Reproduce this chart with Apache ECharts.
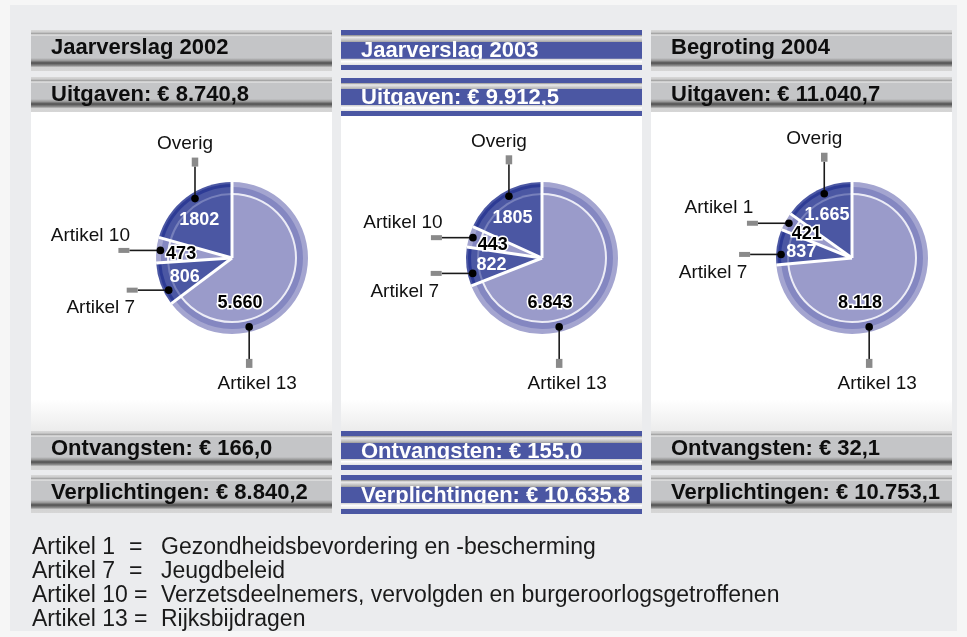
<!DOCTYPE html>
<html>
<head>
<meta charset="utf-8">
<script src="https://cdn.jsdelivr.net/npm/echarts@6/dist/echarts.min.js"></script>
<style>
  html, body { margin: 0; padding: 0; background: #f6f6f6; }
  #chart { width: 967px; height: 637px; }
</style>
</head>
<body>
<div id="chart"></div>
<script>
// slices, clockwise from 12 o'clock
const sliceNames2002 = ['Artikel 13', 'Artikel 7', 'Artikel 10', 'Overig'];
const sliceValues2002 = [5660, 806, 473, 1802];
const sliceLabels2002 = ['5.660', '806', '473', '1802'];

const sliceNames2003 = ['Artikel 13', 'Artikel 7', 'Artikel 10', 'Overig'];
const sliceValues2003 = [6843, 822, 443, 1805];
const sliceLabels2003 = ['6.843', '822', '443', '1805'];

const sliceNames2004 = ['Artikel 13', 'Artikel 7', 'Artikel 1', 'Overig'];
const sliceValues2004 = [8118, 837, 421, 1665];
const sliceLabels2004 = ['8.118', '837', '421', '1.665'];

const panelTitles = ['Jaarverslag 2002', 'Jaarverslag 2003', 'Begroting 2004'];
const uitgaven = ['€ 8.740,8', '€ 9.912,5', '€ 11.040,7'];
const ontvangsten = ['€ 166,0', '€ 155,0', '€ 32,1'];
const verplichtingen = ['€ 8.840,2', '€ 10.635,8', '€ 10.753,1'];

const legendNames = ['Artikel 1', 'Artikel 7', 'Artikel 10', 'Artikel 13'];
const legendTexts = [
  'Gezondheidsbevordering en -bescherming',
  'Jeugdbeleid',
  'Verzetsdeelnemers, vervolgden en burgeroorlogsgetroffenen',
  'Rijksbijdragen'
];

const panels = [
  { names: sliceNames2002, values: sliceValues2002, labels: sliceLabels2002, blue: false },
  { names: sliceNames2003, values: sliceValues2003, labels: sliceLabels2003, blue: true },
  { names: sliceNames2004, values: sliceValues2004, labels: sliceLabels2004, blue: false }
];

const panelLeft = [31, 341, 651];
const panelWidth = 301;
const pieCy = 258;
const R = 76;
const BLUE = '#4b57a3';
const FONT = '"Liberation Sans", Arial, sans-serif';

// ring layers drawn outside-in
const layerRadius = [76, 74, 71, 65, 63];
const lightRing = ['#a4a5d0', '#a4a5d0', '#8487c1', '#ececf6', '#9a9bca'];
const darkRing = ['#4b57a3', '#2d3b95', '#4b57a3', '#7780bb', '#4b57a3'];

// where the value label and the leader dot sit inside each slice slot
const labelAnchor = [{ deg: 170, r: 46 }, { frac: 0.45, r: 51 }, { frac: 0.4, r: 51 }, { frac: 0.45, r: 50 }];
const dotAnchor = [{ deg: 166, r: 71 }, { frac: 0.3, r: 71 }, { frac: 0.5, r: 72 }, { frac: 0.57, r: 70 }];
const leader = [
  { dx: 0, dy: 32, sq: [-3.25, 0, 6.5, 9], tx: 8, ty: 57 },
  { dx: -31, dy: 0, sq: [-11, -2.5, 11, 5], tx: -68, ty: 18 },
  { dx: -31, dy: 0, sq: [-11, -2.5, 11, 5], tx: -70, ty: -15 },
  { dx: 0, dy: -32, sq: [-3.25, -9, 6.5, 9], tx: -10, ty: -55 }
];

const sum = arr => arr.reduce((a, b) => a + b, 0);

function renderAnnotations(p, params, api) {
  const i = params.dataIndex;
  const total = sum(p.values);
  const start = sum(p.values.slice(0, i));
  const angleOf = a => a.deg != null ? a.deg / 360 * total : start + a.frac * p.values[i];
  const c = api.coord([0, start]);
  const e = api.coord([R, start]);
  const lp = api.coord([labelAnchor[i].r, angleOf(labelAnchor[i])]);
  const d = api.coord([dotAnchor[i].r, angleOf(dotAnchor[i])]);
  const L = leader[i];
  const end = [d[0] + L.dx, d[1] + L.dy];
  const light = i % 2 === 0;
  return {
    type: 'group',
    children: [
      { type: 'line', z2: 1, shape: { x1: c[0], y1: c[1], x2: e[0], y2: e[1] },
        style: { stroke: '#fff', lineWidth: 3 } },
      { type: 'line', z2: 2, shape: { x1: d[0], y1: d[1], x2: end[0], y2: end[1] },
        style: { stroke: '#1a1a1a', lineWidth: 1.6 } },
      { type: 'rect', z2: 2, shape: { x: end[0] + L.sq[0], y: end[1] + L.sq[1], width: L.sq[2], height: L.sq[3] },
        style: { fill: '#8a8a8a' } },
      { type: 'circle', z2: 3, shape: { cx: d[0], cy: d[1], r: 3.8 }, style: { fill: '#000' } },
      { type: 'text', z2: 4, style: {
          text: p.names[i], x: d[0] + L.tx, y: d[1] + L.ty,
          align: 'center', verticalAlign: 'middle', textAlign: 'center', textVerticalAlign: 'middle',
          font: '19px ' + FONT, fill: '#111' } },
      { type: 'text', z2: 5, style: {
          text: p.labels[i], x: lp[0], y: lp[1],
          align: 'center', verticalAlign: 'middle', textAlign: 'center', textVerticalAlign: 'middle',
          font: 'bold 18px ' + FONT, fill: light ? '#000' : '#fff',
          stroke: light ? '#fff' : null, lineWidth: light ? 3 : 0, strokeFirst: true } }
    ]
  };
}

const series = [];
panels.forEach((p, pi) => {
  layerRadius.forEach((r, li) => {
    series.push({
      type: 'pie',
      center: [panelLeft[pi] + 201, pieCy],
      radius: r,
      startAngle: 90,
      clockwise: true,
      silent: true,
      animation: false,
      z: 10,
      label: { show: false },
      labelLine: { show: false },
      emphasis: { disabled: true },
      data: p.values.map((v, i) => ({
        name: p.names[i], value: v,
        itemStyle: { color: (i % 2 === 0 ? lightRing : darkRing)[li] }
      }))
    });
  });
  series.push({
    type: 'custom',
    coordinateSystem: 'polar',
    polarIndex: pi,
    z: 11,
    silent: true,
    animation: false,
    data: p.values.map(v => [0, v]),
    renderItem: (params, api) => renderAnnotations(p, params, api)
  });
});

// header / footer bars
function grayFill(h) {
  const s = [[0, '#d8d8d8'], [2, '#cdcdcd'], [3.5, '#a6a6a6'], [5, '#e3e3e3'], [6.5, '#c4c5c7'],
    [h - 13, '#c4c5c7'], [h - 10.5, '#9a9a9a'], [h - 8, '#4f4f4f'], [h - 5.5, '#8a8a8a'],
    [h - 3.5, '#d3d3d3'], [h, '#d6d6d6']];
  return { type: 'linear', x: 0, y: 0, x2: 0, y2: 1,
    colorStops: s.map(([o, c]) => ({ offset: o / h, color: c })) };
}
function blueFill(h) {
  const a = 0.12, b = 0.3, c = 0.72, d = 0.87;
  const s = [[0, BLUE], [a, BLUE], [a, '#7d7d7d'], [a + 0.06, '#ececec'], [b - 0.02, '#b4b4b4'], [b, '#a0a0a0'],
    [b, BLUE], [c, BLUE], [c, '#d0d0d0'], [c + 0.06, '#ffffff'], [d, '#e4e4e4'], [d, BLUE], [1, BLUE]];
  return { type: 'linear', x: 0, y: 0, x2: 0, y2: 1,
    colorStops: s.map(([o, col]) => ({ offset: o, color: col })) };
}
function stripeFill(h) {
  // lower part of blue bar drawn over the text
  const c = 0.72, d = 0.87, span = 1 - c;
  const s = [[c, '#d0d0d0'], [c + 0.06, '#ffffff'], [d, '#e4e4e4'], [d, BLUE], [1, BLUE]];
  return { type: 'linear', x: 0, y: 0, x2: 0, y2: 1,
    colorStops: s.map(([o, col]) => ({ offset: (o - c) / span, color: col })) };
}

const graphics = [
  { type: 'rect', z: -3, shape: { x: 0, y: 0, width: 967, height: 637 }, style: { fill: '#f6f6f6' } },
  { type: 'rect', z: -2, shape: { x: 10, y: 5, width: 947, height: 626 }, style: { fill: '#ebecee' } }
];

const grayBars = [[30, 41], [77, 35], [431, 39], [475, 38]];
const blueBars = [[30, 40], [78, 38], [431, 39], [475, 39]];
const barTexts = [
  i => panelTitles[i],
  i => 'Uitgaven: ' + uitgaven[i],
  i => 'Ontvangsten: ' + ontvangsten[i],
  i => 'Verplichtingen: ' + verplichtingen[i]
];

panels.forEach((p, pi) => {
  const x = panelLeft[pi];
  graphics.push({
    type: 'rect', z: -1,
    shape: { x: x, y: 112, width: panelWidth, height: 319 },
    style: { fill: { type: 'linear', x: 0, y: 0, x2: 0, y2: 1,
      colorStops: [{ offset: 0, color: '#fff' }, { offset: 0.9, color: '#fff' }, { offset: 1, color: '#ececec' }] } }
  });
  const bars = p.blue ? blueBars : grayBars;
  bars.forEach(([y, h], bi) => {
    graphics.push({
      type: 'rect', z: 0, shape: { x: x, y: y, width: panelWidth, height: h },
      style: { fill: p.blue ? blueFill(h) : grayFill(h) }
    });
    const baseline = p.blue ? y + 0.72 * h + 0.5 : y + 25.7;
    graphics.push({
      type: 'text', z: 1,
      style: {
        text: barTexts[bi](pi), x: x + 20, y: baseline - 8,
        align: 'left', verticalAlign: 'middle', textAlign: 'left', textVerticalAlign: 'middle',
        font: 'bold 22px ' + FONT, fill: p.blue ? '#fff' : '#0d0d0d'
      }
    });
    if (p.blue) {
      const sy = y + 0.72 * h;
      graphics.push({
        type: 'rect', z: 2, shape: { x: x, y: sy, width: panelWidth, height: y + h - sy },
        style: { fill: stripeFill(h) }
      });
    }
  });
});

const eqX = [129, 129, 134, 134];
legendNames.forEach((n, i) => {
  const y = 548 + i * 24;
  const st = { align: 'left', verticalAlign: 'middle', textAlign: 'left', textVerticalAlign: 'middle',
    font: '23px ' + FONT, fill: '#1a1a1a' };
  graphics.push({ type: 'text', z: 1, style: Object.assign({ text: n, x: 32, y: y }, st) });
  graphics.push({ type: 'text', z: 1, style: Object.assign({ text: '=', x: eqX[i], y: y }, st) });
  graphics.push({ type: 'text', z: 1, style: Object.assign({ text: legendTexts[i], x: 161, y: y }, st) });
});

const chart = echarts.init(document.getElementById('chart'));
chart.setOption({
  animation: false,
  polar: panels.map((p, pi) => ({ center: [panelLeft[pi] + 201, pieCy], radius: R })),
  angleAxis: panels.map((p, pi) => ({
    polarIndex: pi, type: 'value', min: 0, max: sum(p.values),
    startAngle: 90, clockwise: true, show: false
  })),
  radiusAxis: panels.map((p, pi) => ({ polarIndex: pi, type: 'value', min: 0, max: R, show: false })),
  graphic: { elements: graphics },
  series: series
});
</script>
</body>
</html>
